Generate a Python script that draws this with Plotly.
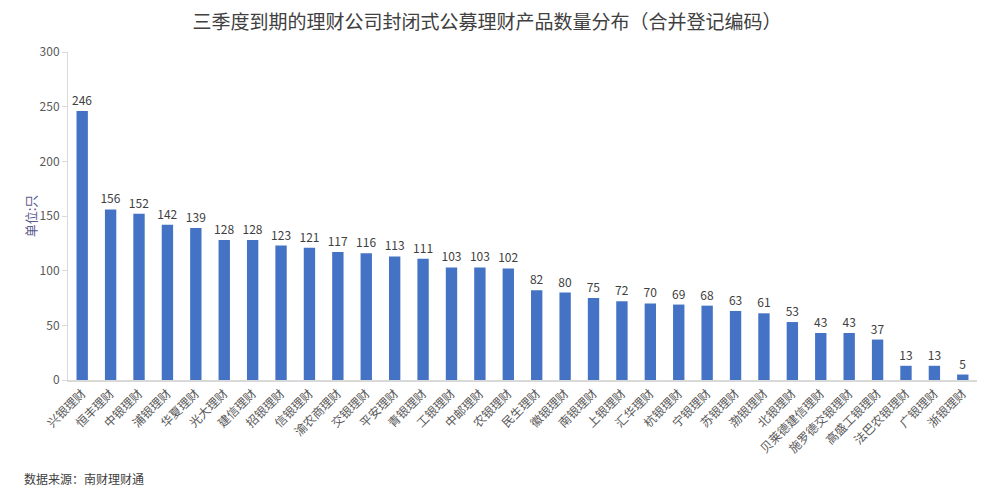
import plotly.graph_objects as go

categories = ["兴银理财", "恒丰理财", "中银理财", "浦银理财", "华夏理财", "光大理财", "建信理财", "招银理财",
              "信银理财", "渝农商理财", "交银理财", "平安理财", "青银理财", "工银理财", "中邮理财", "农银理财",
              "民生理财", "徽银理财", "南银理财", "上银理财", "汇华理财", "杭银理财", "宁银理财", "苏银理财",
              "渤银理财", "北银理财", "贝莱德建信理财", "施罗德交银理财", "高盛工银理财", "法巴农银理财", "广银理财", "浙银理财"]
values = [246, 156, 152, 142, 139, 128, 128, 123, 121, 117, 116, 113, 111, 103, 103, 102,
          82, 80, 75, 72, 70, 69, 68, 63, 61, 53, 43, 43, 37, 13, 13, 5]
y_ticks = [0, 50, 100, 150, 200, 250, 300]

FONT = "Noto Sans CJK SC"

fig = go.Figure(go.Bar(
    x=categories, y=values,
    marker=dict(color="#4472C4", line=dict(width=0)),
    text=[str(v) for v in values], textposition="outside",
    textfont=dict(size=12, color="#404040", family=FONT),
    constraintext="none",
    cliponaxis=False,
))

fig.update_layout(
    width=990, height=502,
    margin=dict(l=60, r=21, t=44, b=130, autoexpand=False),
    paper_bgcolor="white", plot_bgcolor="white",
    bargap=0.6,
    showlegend=False,
    font=dict(family=FONT, color="#595959"),
    title=dict(text="三季度到期的理财公司封闭式公募理财产品数量分布（合并登记编码）",
               x=(487 - 8) / 990, xanchor="center", y=1 - 14 / 502, yanchor="middle",
               font=dict(size=19, color="#404040", family=FONT)),
    xaxis=dict(tickangle=-45, tickfont=dict(size=12, color="#595959"),
               showline=True, linecolor="#D9D9D9", linewidth=1.5,
               ticks="", showgrid=False, automargin=False),
    yaxis=dict(range=[0, 300], tickvals=y_ticks, tickfont=dict(size=12, color="#595959"),
               showline=True, linecolor="#D9D9D9", linewidth=1,
               ticks="outside", ticklen=5, tickcolor="#D9D9D9",
               showgrid=False, zeroline=False, automargin=False,
               title=dict(text="单位:只", font=dict(size=13, color="#5B5B8F"), standoff=0)),
)
fig.add_annotation(text="数据来源：南财理财通", xref="paper", yref="paper",
                   x=(14 - 60) / 909, y=(380 - 478) / 328, xanchor="left", yanchor="middle",
                   showarrow=False,
                   font=dict(size=12, color="#404040", family=FONT))

fig.write_html("out.html")
